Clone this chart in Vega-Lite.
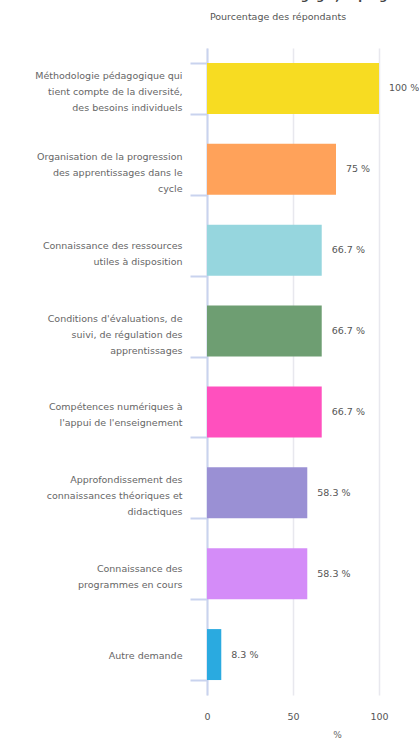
{
  "$schema": "https://vega.github.io/schema/vega-lite/v6.json",
  "width": 172,
  "height": 647,
  "autosize": {"type": "none"},
  "padding": {"left": 207, "top": 48, "right": 40, "bottom": 45},
  "background": "white",
  "title": {
    "text": "Besoins de formation : Pédagogie, le programme",
    "subtitle": "Pourcentage des répondants",
    "anchor": "middle",
    "dx": -15,
    "offset": 22,
    "font": "DejaVu Sans",
    "fontSize": 11,
    "fontWeight": "bold",
    "color": "#444",
    "subtitleFont": "DejaVu Sans",
    "subtitleFontSize": 9.5,
    "subtitleColor": "#555",
    "subtitlePadding": 10
  },
  "config": {
    "view": {"stroke": null},
    "font": "DejaVu Sans"
  },
  "data": {
    "values": [
      {"cat": "Méthodologie pédagogique qui|tient compte de la diversité,|des besoins individuels", "pct": 100},
      {"cat": "Organisation de la progression|des apprentissages dans le|cycle", "pct": 75},
      {"cat": "Connaissance des ressources|utiles à disposition", "pct": 66.7},
      {"cat": "Conditions d'évaluations, de|suivi, de régulation des|apprentissages", "pct": 66.7},
      {"cat": "Compétences numériques à|l'appui de l'enseignement", "pct": 66.7},
      {"cat": "Approfondissement des|connaissances théoriques et|didactiques", "pct": 58.3},
      {"cat": "Connaissance des|programmes en cours", "pct": 58.3},
      {"cat": "Autre demande", "pct": 8.3}
    ]
  },
  "transform": [
    {"calculate": "format(datum.pct, '~r') + ' %'", "as": "lbl"}
  ],
  "encoding": {
    "y": {
      "field": "cat",
      "type": "nominal",
      "sort": null,
      "scale": {"paddingInner": 0.37, "paddingOuter": 0.185},
      "axis": {
        "title": null,
        "labelExpr": "split(datum.label, '|')",
        "labelFont": "DejaVu Sans",
        "labelFontSize": 9.5,
        "labelColor": "#666",
        "labelLineHeight": 16,
        "labelLimit": 0,
        "labelPadding": 8,
        "labelOffset": {
          "condition": [
            {"test": "length(split(datum.value, '|')) == 3", "value": -13},
            {"test": "length(split(datum.value, '|')) == 2", "value": -5}
          ],
          "value": 1
        },
        "domainColor": "#c9d3ee",
        "domainWidth": 2,
        "tickColor": "#c9d3ee",
        "tickWidth": 2,
        "tickSize": 17,
        "tickBand": "extent",
        "grid": false
      }
    }
  },
  "layer": [
    {
      "mark": {"type": "bar"},
      "encoding": {
        "x": {
          "field": "pct",
          "type": "quantitative",
          "scale": {"domain": [0, 100], "nice": false},
          "axis": {
            "title": "%",
            "titleX": 130,
            "titleY": 35,
            "titleFont": "DejaVu Sans",
            "titleFontSize": 9,
            "titleFontWeight": "normal",
            "titleColor": "#666",
            "values": [0, 50, 100],
            "ticks": false,
            "domain": false,
            "labelFlush": false,
            "labelFont": "DejaVu Sans",
            "labelFontSize": 9.5,
            "labelColor": "#555",
            "labelPadding": 16,
            "grid": true,
            "gridColor": "#e8e8ee",
            "gridWidth": 1.5
          }
        },
        "color": {
          "field": "cat",
          "type": "nominal",
          "sort": null,
          "legend": null,
          "scale": {
            "range": ["#f7dc22", "#ffa25a", "#96d6de", "#6e9e72", "#ff50be", "#9a90d4", "#d48cf8", "#2aaae0"]
          }
        }
      }
    },
    {
      "mark": {"type": "text", "align": "left", "baseline": "middle", "dx": 10, "font": "DejaVu Sans", "fontSize": 9.5, "color": "#555"},
      "encoding": {
        "x": {"field": "pct", "type": "quantitative"},
        "text": {"field": "lbl"}
      }
    }
  ]
}
